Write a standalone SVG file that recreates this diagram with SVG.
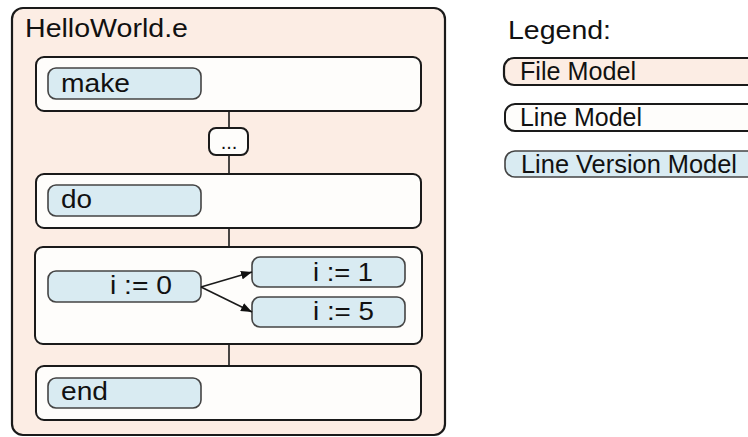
<svg xmlns="http://www.w3.org/2000/svg" width="748" height="437" viewBox="0 0 748 437">
  <defs>
    <marker id="arrow" viewBox="0 0 10 8" refX="10" refY="4" markerWidth="11" markerHeight="9" markerUnits="userSpaceOnUse" orient="auto">
      <path d="M0,0 L10,4 L0,8 Z" fill="#111"/>
    </marker>
  </defs>
  <style>
    text { font-family: "Liberation Sans", Arial, sans-serif; font-size: 26.5px; fill: #111; }
    .file { fill: #fcede4; stroke: #1a1a1a; stroke-width: 2.2; }
    .line { fill: #fefdfb; stroke: #1a1a1a; stroke-width: 2; }
    .ver { fill: #d9ebf2; stroke: #444; stroke-width: 1.6; }
    .conn { stroke: #1a1a1a; stroke-width: 1.6; fill: none; }
    .small { font-size: 20px; }
  </style>
  <rect width="748" height="437" fill="#ffffff"/>

  <!-- file model -->
  <g id="file-helloworld">
    <rect class="file" x="12" y="8" width="433" height="427" rx="11"/>
    <text x="25" y="37" textLength="163" lengthAdjust="spacingAndGlyphs">HelloWorld.e</text>
  </g>

  <g id="line-make">
    <rect class="line" x="36" y="57" width="385" height="54" rx="8"/>
    <g id="ver-make">
      <rect class="ver" x="48" y="68" width="153" height="31" rx="8"/>
      <text x="61" y="92" textLength="69" lengthAdjust="spacingAndGlyphs">make</text>
    </g>
  </g>

  <g id="elided">
    <rect class="line" x="209" y="128" width="39" height="27" rx="7"/>
    <text class="small" x="229" y="149" text-anchor="middle">...</text>
  </g>

  <g id="line-do">
    <rect class="line" x="36" y="174" width="385" height="54" rx="8"/>
    <g id="ver-do">
      <rect class="ver" x="48" y="185" width="153" height="31" rx="8"/>
      <text x="61" y="208" textLength="31" lengthAdjust="spacingAndGlyphs">do</text>
    </g>
  </g>

  <g id="line-assign">
    <rect class="line" x="35" y="247" width="387" height="97" rx="8"/>
    <g id="ver-i0">
      <rect class="ver" x="48" y="271" width="153" height="31" rx="8"/>
      <text x="110" y="294" textLength="62" lengthAdjust="spacingAndGlyphs">i := 0</text>
    </g>
    <g id="ver-i1">
      <rect class="ver" x="252" y="257" width="153" height="30" rx="8"/>
      <text x="313" y="281" textLength="60" lengthAdjust="spacingAndGlyphs">i := 1</text>
    </g>
    <g id="ver-i5">
      <rect class="ver" x="252" y="297" width="153" height="30" rx="8"/>
      <text x="313" y="320" textLength="61" lengthAdjust="spacingAndGlyphs">i := 5</text>
    </g>
  </g>

  <g id="line-end">
    <rect class="line" x="36" y="366" width="385" height="54" rx="8"/>
    <g id="ver-end">
      <rect class="ver" x="48" y="378" width="153" height="30" rx="8"/>
      <text x="61" y="400" textLength="47" lengthAdjust="spacingAndGlyphs">end</text>
    </g>
  </g>

  <!-- connectors between lines and version arrows, drawn on top -->
  <g id="connectors">
    <line class="conn" x1="229" y1="112" x2="229" y2="127"/>
    <line class="conn" x1="229" y1="156" x2="229" y2="173"/>
    <line class="conn" x1="229" y1="229" x2="229" y2="246"/>
    <line class="conn" x1="229" y1="345" x2="229" y2="365"/>
    <line class="conn" x1="201" y1="287" x2="252" y2="272" marker-end="url(#arrow)"/>
    <line class="conn" x1="201" y1="287" x2="252" y2="312" marker-end="url(#arrow)"/>
  </g>

  <!-- legend -->
  <g id="legend">
    <text x="508" y="39" textLength="103" lengthAdjust="spacingAndGlyphs">Legend:</text>
    <g id="legend-file">
      <rect class="file" x="504" y="58" width="270" height="27" rx="10"/>
      <text x="520" y="80" textLength="116" lengthAdjust="spacingAndGlyphs">File Model</text>
    </g>
    <g id="legend-line">
      <rect class="line" x="505" y="104" width="270" height="27" rx="10"/>
      <text x="520" y="126" textLength="122" lengthAdjust="spacingAndGlyphs">Line Model</text>
    </g>
    <g id="legend-ver">
      <rect class="ver" x="505" y="151" width="270" height="26" rx="10"/>
      <text x="521" y="173" textLength="216" lengthAdjust="spacingAndGlyphs">Line Version Model</text>
    </g>
  </g>
</svg>
